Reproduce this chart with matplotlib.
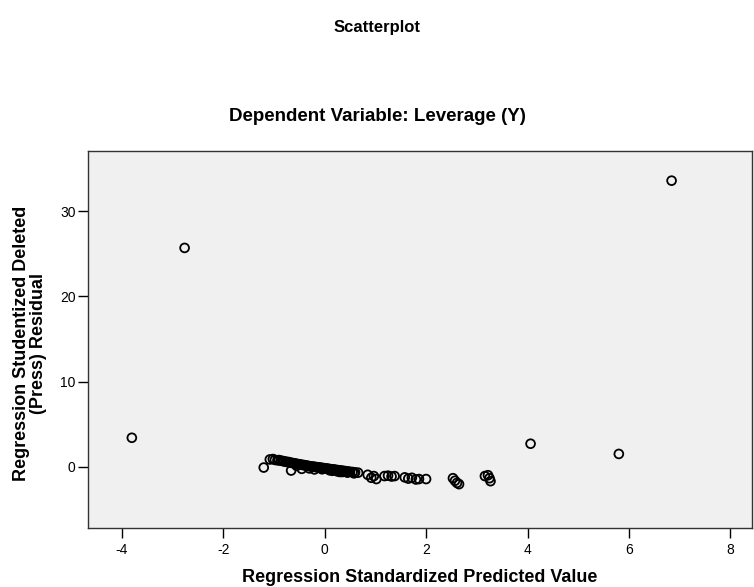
import matplotlib
matplotlib.use("Agg")
import matplotlib.pyplot as plt

plt.rcParams['font.family'] = ['Liberation Sans', 'DejaVu Sans']

# outlying cases
out_x = [-2.76, 6.84, -3.80, 4.06, 5.80, -1.20]
out_y = [25.7, 33.6, 3.4, 2.7, 1.5, -0.1]

# main band of cases
band_x = [-1.08, -1.02, -0.98, -0.93, -0.90, -0.86, -0.83, -0.80, -0.77, -0.74,
          -0.71, -0.68, -0.65, -0.62, -0.60, -0.57, -0.54, -0.51, -0.48, -0.45,
          -0.42, -0.40, -0.37, -0.34, -0.31, -0.28, -0.25, -0.22, -0.19, -0.16,
          -0.13, -0.10, -0.07, -0.04, -0.01, 0.02, 0.05, 0.08, 0.11, 0.14,
          0.17, 0.20, 0.23, 0.26, 0.29, 0.32, 0.35, 0.38, 0.41, 0.44,
          0.47, 0.50, 0.55, 0.60, 0.66, -0.66, -0.45, -0.30, -0.20, 0.10,
          0.25, 0.35, -0.55, -0.05, 0.15, 0.30, 0.45, 0.58,
          0.85, 0.92, 0.97, 1.02, 1.18, 1.25, 1.32, 1.38, 1.58, 1.65,
          1.72, 1.80, 1.86, 2.00, 2.53, 2.57, 2.61, 2.65, 3.16, 3.22,
          3.27, 3.25]
band_y = [0.85, 0.90, 0.80, 0.75, 0.78, 0.70, 0.68, 0.62, 0.60, 0.55,
          0.55, 0.48, 0.45, 0.42, 0.40, 0.36, 0.32, 0.30, 0.26, 0.22,
          0.20, 0.18, 0.14, 0.12, 0.08, 0.05, 0.02, 0.00, -0.02, -0.05,
          -0.07, -0.10, -0.12, -0.15, -0.17, -0.20, -0.22, -0.25, -0.28, -0.30,
          -0.32, -0.35, -0.38, -0.40, -0.42, -0.45, -0.48, -0.50, -0.52, -0.55,
          -0.58, -0.60, -0.62, -0.66, -0.70, -0.45, -0.25, -0.20, -0.32, -0.42,
          -0.55, -0.62, 0.10, -0.30, -0.48, -0.62, -0.70, -0.78,
          -0.95, -1.30, -1.10, -1.45, -1.10, -1.05, -1.15, -1.10, -1.25, -1.40,
          -1.30, -1.50, -1.45, -1.45, -1.35, -1.65, -1.90, -2.05, -1.10, -1.00,
          -1.70, -1.35]

xt = [-4, -2, 0, 2, 4, 6, 8]
yt = [0, 10, 20, 30]

fig = plt.figure(figsize=(7.54, 5.87), dpi=100)
ax = fig.add_axes([0.117, 0.1005, 0.880, 0.6425])
ax.set_facecolor('#F0F0F0')

ax.scatter(band_x + out_x, band_y + out_y, s=40, facecolors='none',
           edgecolors='black', linewidths=1.3, zorder=3)

ax.set_xlim(-4.66, 8.42)
ax.set_ylim(-7.2, 37.1)
ax.set_xticks(xt)
ax.set_xticklabels([str(v) for v in xt])
ax.set_yticks(yt)
ax.set_yticklabels([str(v) for v in yt])
ax.tick_params(direction='out', length=7, width=1.0, labelsize=10,
               colors='black', pad=2)
ax.tick_params(axis='x', pad=4)
for sp in ax.spines.values():
    sp.set_linewidth(1.0)
    sp.set_color('#333333')

ax.set_xlabel('Regression Standardized Predicted Value', fontsize=13,
              fontweight='bold')
ax.xaxis.set_label_coords(0.5, -0.11)
ax.set_ylabel('Regression Studentized Deleted\n(Press) Residual', fontsize=13,
              fontweight='bold', linespacing=1.0)
ax.yaxis.set_label_coords(-0.062, 0.49)

fig.text(0.5, 0.953, 'Scatterplot', ha='center', va='center', fontsize=12,
         fontweight='bold')
fig.text(0.5, 0.801, 'Dependent Variable: Leverage (Y)', ha='center',
         va='center', fontsize=13.5, fontweight='bold')

fig.savefig('out.png', dpi=100, facecolor='white')
